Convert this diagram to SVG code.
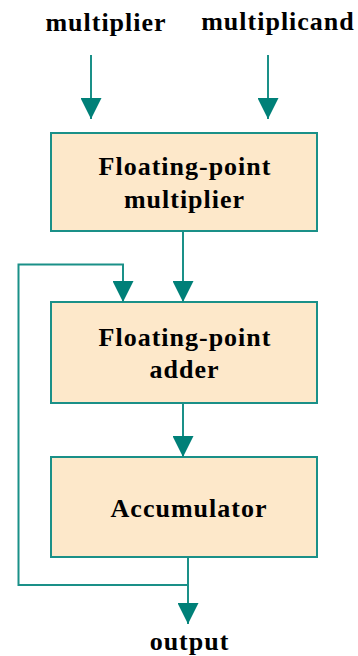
<svg xmlns="http://www.w3.org/2000/svg" width="358" height="656" viewBox="0 0 358 656">
<style>
.box{fill:#FDE8CA;stroke:#1A9088;stroke-width:2}
.ln{fill:none;stroke:#1A9088;stroke-width:2}
.t{font-family:"Liberation Serif","Times New Roman",serif;font-weight:bold;font-size:26px;letter-spacing:1px;fill:#000;text-anchor:middle}
</style>
<defs>
<marker id="ah" markerWidth="21" markerHeight="21" viewBox="0 0 21 21" refX="21" refY="10.5" orient="auto" markerUnits="userSpaceOnUse">
<path d="M0,0 L21,10.5 L0,21 Z" fill="#008078"/>
</marker>
</defs>
<rect width="358" height="656" fill="#fff"/>
<g id="label-multiplier"><text class="t" x="106" y="31">multiplier</text></g>
<g id="label-multiplicand"><text class="t" x="278" y="30">multiplicand</text></g>
<g id="fp-multiplier">
<rect class="box" x="51" y="133" width="266" height="98"/>
<text class="t" x="185" y="175">Floating-point</text>
<text class="t" x="184.5" y="208">multiplier</text>
</g>
<g id="fp-adder">
<rect class="box" x="51" y="302" width="266" height="101"/>
<text class="t" x="185" y="346">Floating-point</text>
<text class="t" x="184.5" y="378">adder</text>
</g>
<g id="accumulator">
<rect class="box" x="51" y="457" width="266" height="100"/>
<text class="t" x="189" y="517">Accumulator</text>
</g>
<g id="label-output"><text class="t" x="189.5" y="650">output</text></g>
<g id="connectors">
<path class="ln" d="M91,55 V119" marker-end="url(#ah)"/>
<path class="ln" d="M268,55 V119" marker-end="url(#ah)"/>
<path class="ln" d="M183,231 V302" marker-end="url(#ah)"/>
<path class="ln" d="M183,403 V457" marker-end="url(#ah)"/>
<path class="ln" d="M188,557 V624" marker-end="url(#ah)"/>
<path class="ln" d="M188,585 H18.5 V264.5 H123 V302" marker-end="url(#ah)"/>
</g>
</svg>
